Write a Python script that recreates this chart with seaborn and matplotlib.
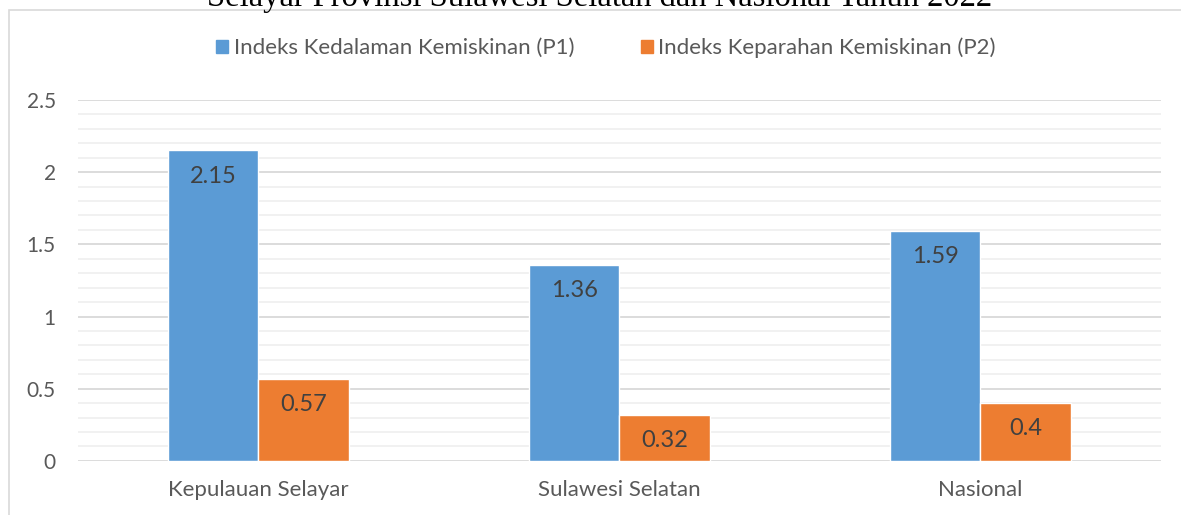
import pandas as pd
import matplotlib.pyplot as plt
import matplotlib.patches as mpatches
import seaborn as sns

# data
wilayah = ['Kepulauan Selayar', 'Sulawesi Selatan', 'Nasional']
p1 = [2.15, 1.36, 1.59]
p2 = [0.57, 0.32, 0.40]
seri = ['Indeks Kedalaman Kemiskinan (P1)', 'Indeks Keparahan Kemiskinan (P2)']
warna = ['#5B9BD5', '#ED7D31']
judul = 'Selayar Provinsi Sulawesi Selatan dan Nasional Tahun 2022'

df = pd.DataFrame({
    'Wilayah': wilayah * 2,
    'Nilai': p1 + p2,
    'Indeks': [seri[0]] * 3 + [seri[1]] * 3,
})

sns.set_style('white')
plt.rcParams['font.family'] = ['Lato', 'DejaVu Sans']

fig = plt.figure(figsize=(11.81, 5.15), dpi=100)
ax = fig.add_axes([0.066, 0.105, 0.917, 0.701])

sns.barplot(data=df, x='Wilayah', y='Nilai', hue='Indeks', palette=warna,
            width=0.5, saturation=1, ax=ax, legend=False)

for c in ax.containers:
    ax.bar_label(c, labels=[f'{v:g}' for v in c.datavalues], padding=-26,
                 fontsize=17, color='#404040')

ax.set_ylim(0, 2.5)
ax.set_yticks([0, 0.5, 1, 1.5, 2, 2.5])
ax.set_yticklabels(['0', '0.5', '1', '1.5', '2', '2.5'])
ax.set_yticks([i / 10 for i in range(26)], minor=True)
ax.grid(axis='y', which='major', color='#d9d9d9', linewidth=1.3)
ax.grid(axis='y', which='minor', color='#f0f0f0', linewidth=1.3)
ax.set_axisbelow(True)
ax.tick_params(axis='both', which='both', length=0, labelsize=16,
               labelcolor='#595959')
ax.tick_params(axis='y', labelsize=15, pad=16)
ax.tick_params(axis='x', pad=14)
ax.set_xlabel('')
ax.set_ylabel('')
for s in ax.spines.values():
    s.set_visible(False)

handles = [mpatches.Patch(color=w, label=s) for w, s in zip(warna, seri)]
fig.legend(handles=handles, loc='center', bbox_to_anchor=(0.513, 0.907), ncol=2,
           frameon=False, fontsize=16, handlelength=0.55, handleheight=0.55,
           handletextpad=0.25, columnspacing=3.0, labelcolor='#595959')

# chart frame and the clipped title above it
fig.patches.append(mpatches.Rectangle((9 / 1181, -0.1), 1.2, 1 - 10 / 515 + 0.1,
                                      transform=fig.transFigure, fill=False,
                                      edgecolor='#d9d9d9', linewidth=1.2))
fig.text(0.508, 1 - 6 / 515, judul, ha='center', va='baseline',
         family='Liberation Serif', fontsize=23.5, color='#000000')

fig.savefig('out.png', dpi=100)
